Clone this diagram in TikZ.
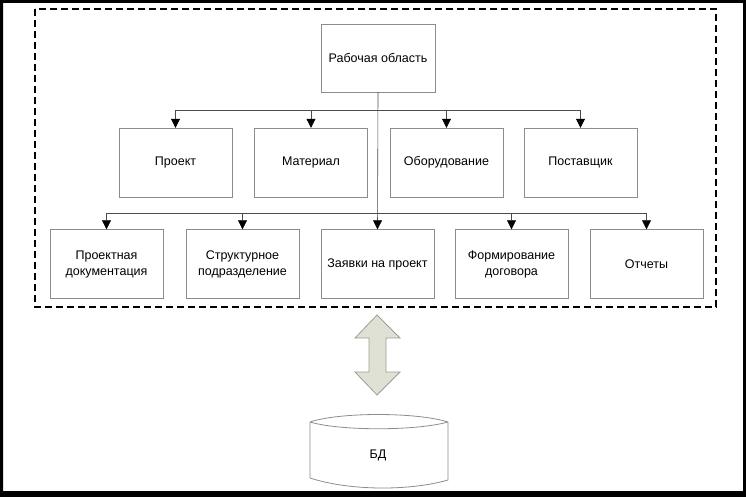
\documentclass[tikz,border=0pt]{standalone}
\usepackage{fontspec}
\setmainfont{Liberation Sans}
\usetikzlibrary{arrows.meta}
\definecolor{arrfill}{HTML}{DFE1D5}
\definecolor{arrline}{HTML}{9C9E95}
\tikzset{
  box/.style={draw=black!45, minimum width=113pt, minimum height=69pt,
    align=center, inner sep=2pt, font=\fontsize{12.5}{16}\selectfont},
  link/.style={draw=black!70, line width=0.6pt, -{Triangle[length=9pt,width=9pt,black]}}
}
\begin{document}
\begin{tikzpicture}[x=1pt,y=-1pt]
  \useasboundingbox (0,0) rectangle (746,497);
  \fill[black,even odd rule] (0,0) rectangle (746,497) (3,3) rectangle (743,491);
  \draw[line width=1.1pt, dash pattern=on 7pt off 4pt] (35,9) rectangle (716,307);

  \node[box, minimum width=114pt, minimum height=68pt] (W) at (378,58) {Рабочая область};

  \node[box] (T-1) at (175.5,162.5) {Проект};
  \node[box] (T-2) at (311,162.5) {Материал};
  \node[box] (T-3) at (446.5,162.5) {Оборудование};
  \node[box] (T-4) at (580.5,162.5) {Поставщик};

  \node[box] (B-1) at (106.5,264) {Проектная\\документация};
  \node[box] (B-2) at (242.5,264) {Структурное\\подразделение};
  \node[box] (B-3) at (377.5,264) {Заявки на проект};
  \node[box] (B-4) at (511.5,264) {Формирование\\договора};
  \node[box] (B-5) at (646.5,264) {Отчеты};

  \draw[link] (W.south) -- (B-3.north);
  \foreach \i in {1,...,4}
    \draw[link] (W.south) ++(0,18) -| (T-\i.north);
  \foreach \i in {1,2,4,5}
    \draw[link] (W.south) ++(0,121) -| (B-\i.north);

  % double arrow to the database
  \filldraw[fill=arrfill, draw=arrline, line width=0.8pt, line join=miter]
    (377,315) -- (400,338) -- (386,338) -- (386,372) -- (400,372) -- (377,395)
    -- (355,372) -- (369,372) -- (369,338) -- (355,338) -- cycle;

  \node[font=\fontsize{12.5}{16}\selectfont] (db) at (378,455) {БД};
  \draw[black!45, line width=0.8pt]
    (310,422) .. controls (340,412) and (416,412) .. (448,422)
    (310,422) .. controls (340,431) and (416,431) .. (448,422)
    (310,422) -- (310,478) .. controls (350,491) and (410,491) .. (448,480) -- (448,422);
\end{tikzpicture}
\end{document}
